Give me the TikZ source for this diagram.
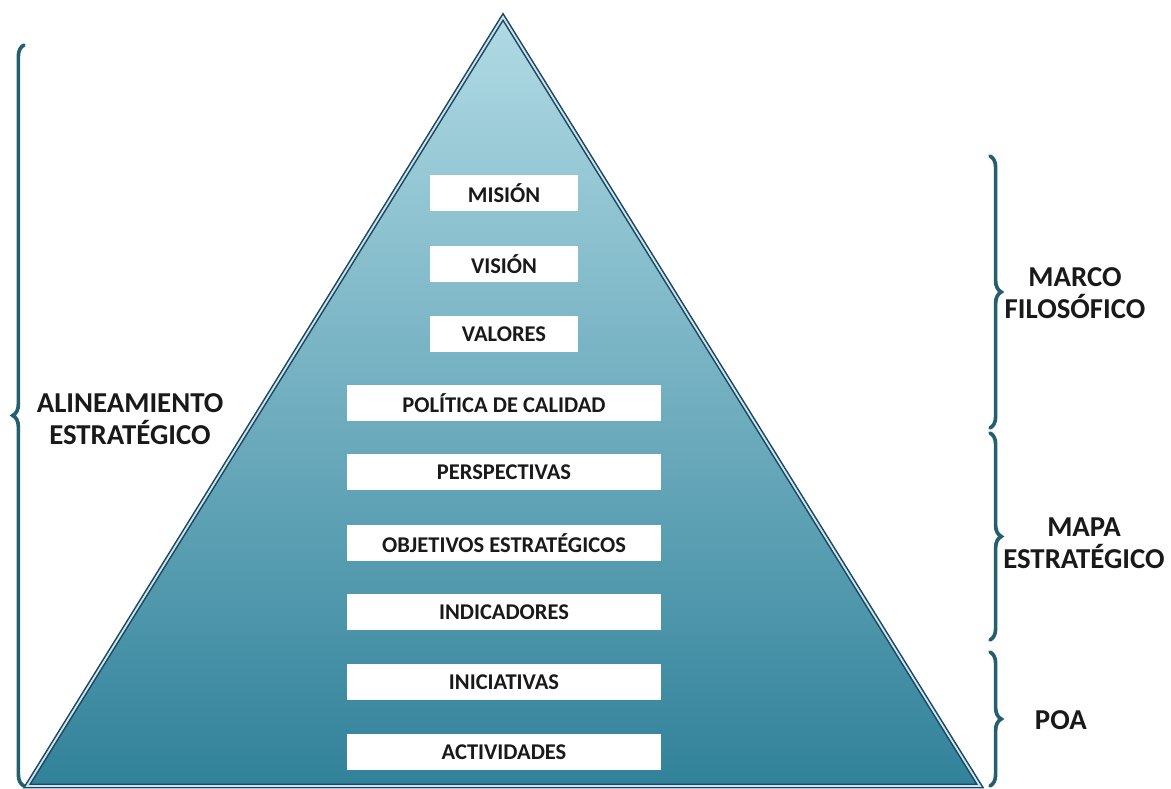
\documentclass[tikz,border=0pt]{standalone}
\usepackage{fontspec}
\setmainfont{Carlito}
\usetikzlibrary{decorations.pathreplacing}
\definecolor{pyrtop}{HTML}{B0DAE4}
\definecolor{pyrmid}{HTML}{52A8BF}
\definecolor{pyrbot}{HTML}{31829A}
\definecolor{pyredge}{HTML}{1E4660}
\definecolor{bracecol}{HTML}{245F70}
\tikzset{
  levelbox/.style={draw=none, fill=white, minimum height=0.9cm, inner sep=0pt,
    font=\fontsize{16}{18}\selectfont\bfseries, text=black!90},
  smallbox/.style={levelbox, minimum width=3.7cm},
  widebox/.style={levelbox, minimum width=7.85cm},
  sidelabel/.style={font=\fontsize{20.5}{23}\selectfont\bfseries, text=black!90, align=center},
  bracket/.style={decorate, decoration={brace, amplitude=8pt}, draw=bracecol, line width=2.6pt, line cap=round}
}
\begin{document}
\begin{tikzpicture}[x=0.025cm, y=-0.025cm]
\useasboundingbox (0,0) rectangle (1171,789);
% pyramid
\coordinate (apex) at (503,17);
\coordinate (bl) at (27,786);
\coordinate (br) at (980,786);
\shade[top color=pyrtop, middle color=pyrmid, bottom color=pyrbot] (apex) -- (bl) -- (br) -- cycle;
\draw[pyredge, line width=1.1pt, double=pyrtop!70, double distance=1.3pt, line join=miter] (apex) -- (bl) -- (br) -- cycle;
% levels
\node[smallbox] (mision) at (504,193) {MISIÓN};
\node[smallbox] (vision) at (504,264) {VISIÓN};
\node[smallbox] (valores) at (504,334) {VALORES};
\node[widebox] (politica) at (504,403) {POLÍTICA DE CALIDAD};
\node[widebox] (persp) at (504,472) {PERSPECTIVAS};
\node[widebox] (objetivos) at (504,543) {OBJETIVOS ESTRATÉGICOS};
\node[widebox] (indic) at (504,612) {INDICADORES};
\node[widebox] (inic) at (504,682) {INICIATIVAS};
\node[widebox] (activ) at (504,752) {ACTIVIDADES};
% braces
\coordinate (alinbot) at (24,786);
\coordinate (alintop) at (24,45);
\coordinate (marcotop) at (990,156);
\coordinate (marcobot) at (990,428);
\coordinate (mapatop) at (990,433);
\coordinate (mapabot) at (990,640);
\coordinate (poatop) at (990,652);
\coordinate (poabot) at (990,786);
\draw[bracket] (alinbot) -- (alintop);
\draw[bracket] (marcotop) -- (marcobot);
\draw[bracket] (mapatop) -- (mapabot);
\draw[bracket] (poatop) -- (poabot);
% labels
\node[sidelabel] (alin) at (130,419) {ALINEAMIENTO\\ESTRATÉGICO};
\node[sidelabel] (marco) at (1075,293) {MARCO\\FILOSÓFICO};
\node[sidelabel] (mapa) at (1084,543) {MAPA\\ESTRATÉGICO};
\node[sidelabel, anchor=west] (poa) at (1030,720) {POA};
\end{tikzpicture}
\end{document}
